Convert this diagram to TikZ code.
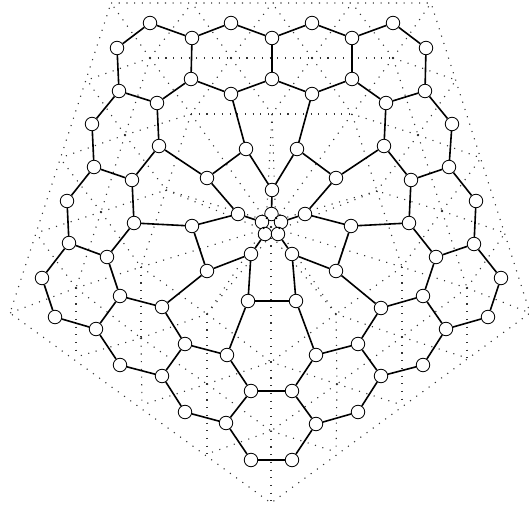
\documentclass[tikz,border=0pt]{standalone}
\usetikzlibrary{backgrounds}

\begin{document}
\begin{tikzpicture}[
  x=1pt,y=-1pt,
  vtx/.style={circle,draw,fill=white,line width=0.85pt,minimum size=13.5pt,inner sep=0pt},
  bond/.style={line width=1.6pt},
  dualedge/.style={line width=1.1pt,black!80,dash pattern=on 1.1pt off 6.6pt}
]
\useasboundingbox (0,0) rectangle (529,507);

% vertices of the graph, row by row
\foreach \name/\x/\y in {
  a1/117/48,a2/150/23,a3/192/38,a4/231/23,a5/272/38,a6/312/23,a7/352/38,a8/393/23,a9/426/48,
  b1/119/91,b2/157/103,b3/191/79,b4/231/94,b5/272/79,b6/312/94,b7/352/79,b8/386/103,b9/425/91,
  c1/92/124,c2/159/146,c3/246/149,c4/297/149,c5/384/146,c6/452/124,
  d1/94/167,d2/132/180,d3/207/178,d4/272/190,d5/336/178,d6/411/180,d7/449/167,
  e1/67/201,e2/134/223,e3/192/226,e4/238/214,e5/305/214,e6/351/226,e7/409/223,e8/476/201,
  f1/69/243,f2/107/257,f3/207/271,f4/251/254,f5/292/254,f6/336/271,f7/436/257,f8/474/244,
  g1/42/278,g2/120/296,g3/162/307,g4/248/301,g5/296/301,g6/381/308,g7/423/296,g8/501/278,
  h1/55/317,h2/96/329,h3/185/344,h4/227/355,h5/316/355,h6/358/344,h7/446/329,h8/488/317,
  i1/120/365,i2/162/376,i3/251/391,i4/292/391,i5/381/376,i6/423/365,
  j1/185/412,j2/226/423,j3/316/424,j4/358/412,
  k1/251/460,k2/292/460,
  m1/271.5/214,m2/262/222,m3/281/222,m4/265/234,m5/278/234}{
  \node[vtx] (\name) at (\x,\y) {};
}

% edges of the graph
\foreach \p/\q in {
  a1/a2,a2/a3,a3/a4,a4/a5,a5/a6,a6/a7,a7/a8,a8/a9,
  a1/b1,a3/b3,a5/b5,a7/b7,a9/b9,
  b1/b2,b2/b3,b3/b4,b4/b5,b5/b6,b6/b7,b7/b8,b8/b9,
  b1/c1,b2/c2,b4/c3,b6/c4,b8/c5,b9/c6,
  c1/d1,c2/d2,c2/d3,c3/d3,c3/d4,c4/d4,c4/d5,c5/d5,c5/d6,c6/d7,
  d1/d2,d6/d7,d1/e1,d2/e2,d3/e4,d4/m1,d5/e5,d6/e7,d7/e8,
  e2/e3,e3/e4,e4/m2,e5/m3,e5/e6,e6/e7,
  e1/f1,e2/f2,e3/f3,e6/f6,e7/f7,e8/f8,
  f1/f2,f3/f4,f5/f6,f7/f8,f4/m4,f5/m5,
  f1/g1,f2/g2,f3/g3,f4/g4,f5/g5,f6/g6,f7/g7,f8/g8,
  g2/g3,g4/g5,g6/g7,
  g1/h1,g2/h2,g3/h3,g4/h4,g5/h5,g6/h6,g7/h7,g8/h8,
  h1/h2,h3/h4,h5/h6,h7/h8,
  h2/i1,h3/i2,h4/i3,h5/i4,h6/i5,h7/i6,
  i1/i2,i3/i4,i5/i6,
  i2/j1,i3/j2,i4/j3,i5/j4,
  j1/j2,j3/j4,j2/k1,j3/k2,k1/k2,
  m1/m2,m1/m3,m2/m4,m3/m5,m4/m5}{
  \draw[bond] (\p) -- (\q);
}

% points of the dotted net
\foreach \name/\x/\y in {
  ot1/111/3,ot2/192/3,ot3/272/3,ot4/352/3,ot5/431/3,
  ol1/87/80,ol2/60/158,ol3/36/233,ol4/10/313,ol5/76/357,ol6/142/405,ol7/207/454,
  or1/456/80,or2/481/158,or3/505/233,or4/530/313,or5/467/358,or6/402/405,or7/336/452,
  ob/271/503,
  fa1/150/58,fa2/231/58,fa3/312/58,fa4/393/58,
  fb1/191/114,fb2/272/114,fb3/352/114,
  fc1/125/135,fc2/418/135,
  fd1/166/190,fd2/377/191,
  fe1/101/212,fe2/442/211,
  ff1/141/267,ff2/402/267,
  fg1/76/288,fg2/467/288,
  fh1/207/314,fh2/336/314,
  fi1/141/338,fi2/402/337,
  fj1/207/384,fj2/337/384,
  fk1/271/362,fk2/271/431,
  fo/271/227,
  fp1/266.3/220.5,fp2/275.7/220.5,fp3/263.4/229.5,fp4/278.6/229.5,fp5/271/235}{
  \coordinate (\name) at (\x,\y);
}

% dotted net, under the vertices
\begin{pgfonlayer}{background}
  \draw[dualedge] (ot1) -- (ot5) -- (or4) -- (ob) -- (ol4) -- cycle;
  \foreach \p/\q in {
    fa1/fa2,fa2/fa3,fa3/fa4,fb1/fb2,fb2/fb3,
    fa1/ot1,fa1/ot2,fa2/ot2,fa2/ot3,fa3/ot3,fa3/ot4,fa4/ot4,fa4/ot5,
    fa1/ol1,fc1/ol1,fc1/ol2,fe1/ol2,fe1/ol3,fg1/ol3,fg1/ol4,
    fa4/or1,fc2/or1,fc2/or2,fe2/or2,fe2/or3,fg2/or3,fg2/or4,
    fg1/ol5,fi1/ol5,fi1/ol6,fj1/ol6,fj1/ol7,fk2/ol7,fk2/ob,
    fg2/or5,fi2/or5,fi2/or6,fj2/or6,fj2/or7,fk2/or7,
    fa1/fc1,fa1/fb1,fa2/fb1,fa2/fb2,fa3/fb2,fa3/fb3,fa4/fb3,fa4/fc2,
    fc1/fb1,fc2/fb3,fb1/fd1,fb3/fd2,fc1/fd1,fc2/fd2,
    fc1/fe1,fc2/fe2,fe1/fd1,fe2/fd2,fe1/ff1,fe2/ff2,
    fd1/ff1,fd2/ff2,fe1/fg1,fe2/fg2,
    fg1/ff1,fg2/ff2,fg1/fi1,fg2/fi2,ff1/fi1,ff2/fi2,
    ff1/fh1,ff2/fh2,fi1/fh1,fi2/fh2,fi1/fj1,fi2/fj2,
    fh1/fj1,fh2/fj2,fh1/fk1,fh2/fk1,fj1/fk1,fj2/fk1,
    fj1/fk2,fj2/fk2,fk1/fk2,
    fb2/fp1,fb2/fp2,fb1/fp1,fb3/fp2,
    fd1/fp1,fd1/fp3,fd2/fp2,fd2/fp4,
    ff1/fp3,ff2/fp4,fh1/fp3,fh1/fp5,fh2/fp4,fh2/fp5,fk1/fp5,
    fp1/fp2,fp2/fp4,fp4/fp5,fp5/fp3,fp3/fp1,
    fo/fp1,fo/fp2,fo/fp3,fo/fp4,fo/fp5}{
    \draw[dualedge] (\p) -- (\q);
  }
\end{pgfonlayer}

\end{tikzpicture}
\end{document}
